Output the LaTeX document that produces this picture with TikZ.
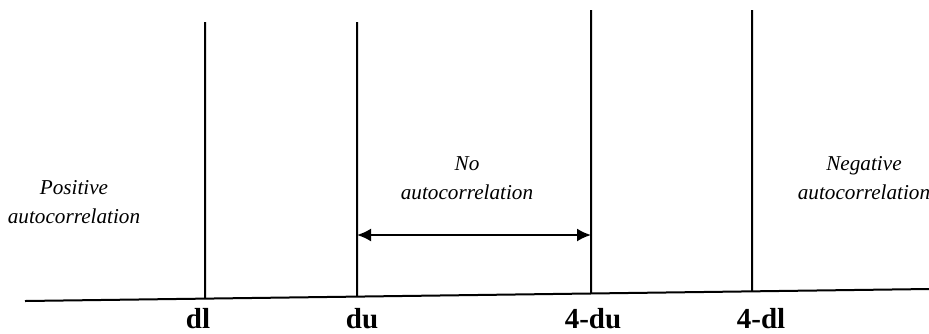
\documentclass[tikz,border=0pt]{standalone}
\usepackage{fontspec}
\setmainfont{Liberation Serif}
\usepackage{tikz}
\usetikzlibrary{arrows.meta,calc}

\begin{document}
\begin{tikzpicture}[x=0.5pt,y=-0.5pt,line width=1pt,
  bound/.style={anchor=base,inner sep=0pt,font=\fontsize{14.5}{16}\selectfont\bfseries},
  region/.style={align=center,font=\fontsize{10.6}{14.5}\selectfont\itshape}]
\useasboundingbox (0,0) rectangle (929,333);
% axis
\coordinate (left) at (25,301);
\coordinate (right) at (929,289);
\draw (left) -- (right);
% critical values
\foreach \name/\x/\top/\lx/\lab in {dl/205/22/198/dl, du/357/22/362/du, udu/591/10/593/4-du, udl/752/10/761/4-dl}{
  \coordinate (\name-foot) at ($(left)!{(\x-25)/904}!(right)$);
  \coordinate (\name-top) at (\x,\top);
  \draw (\name-foot) -- (\name-top);
  \node[bound] (\name-label) at (\lx,328) {\lab};
}
% no autocorrelation range
\coordinate (du-mid) at (357,235);
\coordinate (udu-mid) at (591,235);
\draw[{Latex[length=7pt,width=6.5pt]}-{Latex[length=7pt,width=6.5pt]}] (du-mid) -- (udu-mid);
% regions
\node[region] (pos) at (74,202) {Positive\\autocorrelation};
\node[region] (none) at (467,178) {No\\autocorrelation};
\node[region] (neg) at (864,178) {Negative\\autocorrelation};
\end{tikzpicture}
\end{document}
